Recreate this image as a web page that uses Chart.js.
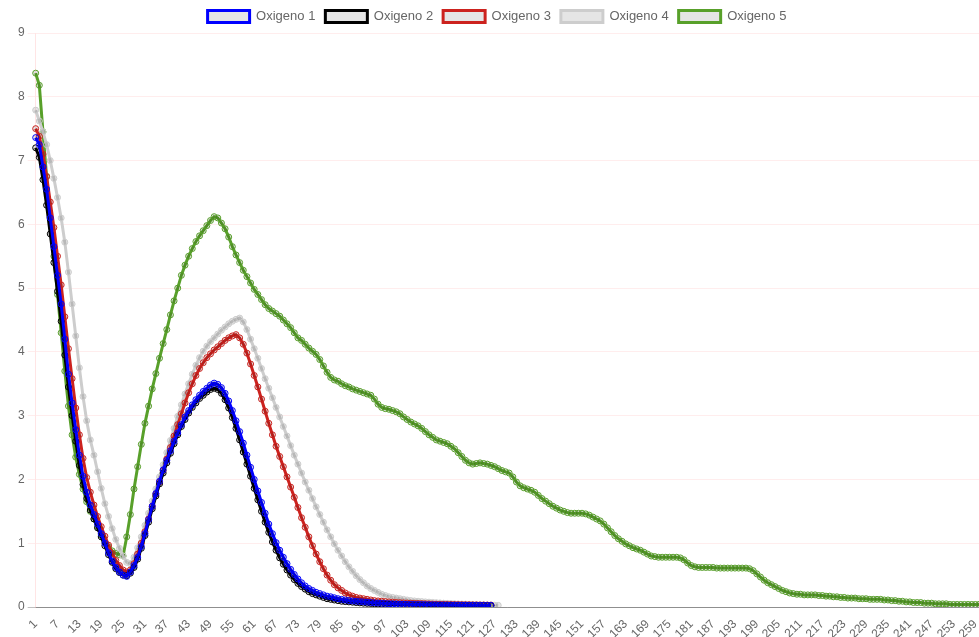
<!DOCTYPE html>
<html>
<head>
<meta charset="utf-8">
<script src="https://cdn.jsdelivr.net/npm/chart.js@4.4.1/dist/chart.umd.min.js"></script>
<style>
  html, body { margin: 0; padding: 0; background: #ffffff; }
  canvas { display: block; }
</style>
</head>
<body>
<canvas id="chart" width="979" height="637"></canvas>
<script>
// Sample numbers along the x axis (1 .. 260)
const categories = Array.from({ length: 260 }, (_, i) => String(i + 1));

const oxigeno1 = [
  7.36, 7.25, 6.9, 6.55, 6.1, 5.65, 5.2, 4.75, 4.2, 3.65,
  3.2, 2.78, 2.38, 2.05, 1.8, 1.6, 1.45, 1.3, 1.15, 1.0,
  0.85, 0.72, 0.62, 0.55, 0.5, 0.48, 0.55, 0.65, 0.78, 0.95,
  1.15, 1.37, 1.58, 1.78, 1.97, 2.15, 2.3, 2.45, 2.6, 2.73,
  2.86, 2.98, 3.08, 3.17, 3.25, 3.32, 3.38, 3.43, 3.48, 3.51,
  3.49, 3.44, 3.35, 3.23, 3.08, 2.92, 2.75, 2.57, 2.38, 2.19,
  2.0, 1.82, 1.64, 1.47, 1.3, 1.15, 1.01, 0.89, 0.78, 0.68,
  0.59, 0.51, 0.44, 0.38, 0.33, 0.29, 0.26, 0.23, 0.21, 0.19,
  0.17, 0.16, 0.145, 0.13, 0.12, 0.11, 0.1, 0.095, 0.09, 0.085,
  0.08, 0.075, 0.07, 0.066, 0.062, 0.058, 0.055, 0.052, 0.05, 0.048,
  0.046, 0.044, 0.042, 0.041, 0.04, 0.039, 0.038, 0.037, 0.036, 0.035,
  0.034, 0.033, 0.032, 0.031, 0.03, 0.03, 0.029, 0.028, 0.028, 0.027,
  0.027, 0.026, 0.026, 0.025, 0.025, 0.025
];

const oxigeno2 = [
  7.2, 7.05, 6.7, 6.3, 5.85, 5.4, 4.95, 4.48, 3.95, 3.45,
  3.0, 2.6, 2.22, 1.92, 1.7, 1.52, 1.38, 1.24, 1.1, 0.96,
  0.82, 0.7, 0.6, 0.54, 0.5, 0.49, 0.53, 0.62, 0.75, 0.92,
  1.12, 1.33, 1.54, 1.74, 1.93, 2.1, 2.26, 2.41, 2.56, 2.7,
  2.83, 2.94, 3.04, 3.13, 3.2, 3.27, 3.32, 3.37, 3.41, 3.43,
  3.41, 3.35, 3.25, 3.12, 2.97, 2.8, 2.62, 2.43, 2.24, 2.05,
  1.86, 1.68, 1.5, 1.33, 1.17, 1.02, 0.89, 0.77, 0.67, 0.58,
  0.5, 0.43, 0.37, 0.32, 0.28, 0.24, 0.21, 0.19, 0.17, 0.15,
  0.13, 0.12, 0.11, 0.1, 0.09, 0.085, 0.08, 0.075, 0.07, 0.065,
  0.06, 0.057, 0.054, 0.051, 0.048, 0.046, 0.044, 0.042, 0.04, 0.038,
  0.037, 0.036, 0.035, 0.034, 0.033, 0.032, 0.031, 0.03, 0.029, 0.028,
  0.028, 0.027, 0.027, 0.026, 0.026, 0.025, 0.025, 0.024, 0.024, 0.023,
  0.023, 0.022, 0.022, 0.022, 0.021, 0.021
];

const oxigeno3 = [
  7.5, 7.38, 7.1, 6.75, 6.35, 5.95, 5.5, 5.05, 4.55, 4.05,
  3.58, 3.12, 2.7, 2.33, 2.03, 1.8, 1.6, 1.42, 1.26, 1.11,
  0.97, 0.84, 0.73, 0.65, 0.58, 0.55, 0.58, 0.68, 0.83, 1.0,
  1.18, 1.38, 1.58, 1.77, 1.96, 2.14, 2.32, 2.5, 2.68, 2.86,
  3.03, 3.2, 3.36, 3.5, 3.63, 3.74, 3.83, 3.91, 3.97, 4.03,
  4.08, 4.13, 4.18, 4.22, 4.25, 4.27, 4.22, 4.12, 3.98, 3.81,
  3.63, 3.45, 3.26, 3.07, 2.88, 2.7, 2.52, 2.36, 2.2, 2.04,
  1.88, 1.72, 1.56, 1.4, 1.25, 1.1, 0.96, 0.83, 0.71, 0.6,
  0.5, 0.42, 0.35, 0.3, 0.26, 0.22, 0.19, 0.17, 0.15, 0.14,
  0.13, 0.12, 0.11, 0.1, 0.095, 0.09, 0.085, 0.08, 0.076, 0.072,
  0.068, 0.065, 0.062, 0.06, 0.057, 0.055, 0.053, 0.051, 0.049, 0.047,
  0.045, 0.044, 0.042, 0.041, 0.04, 0.039, 0.038, 0.037, 0.036, 0.035,
  0.034, 0.033, 0.032, 0.031, 0.03, 0.03
];

const oxigeno4 = [
  7.79, 7.62, 7.45, 7.25, 7.0, 6.72, 6.42, 6.1, 5.72, 5.25,
  4.75, 4.25, 3.75, 3.3, 2.92, 2.62, 2.38, 2.12, 1.86, 1.62,
  1.42, 1.23, 1.06, 0.92, 0.8, 0.7, 0.68, 0.78, 0.93, 1.1,
  1.28, 1.47, 1.66, 1.85, 2.04, 2.23, 2.42, 2.61, 2.8, 2.99,
  3.17, 3.34, 3.5, 3.65, 3.79, 3.91, 4.01, 4.09, 4.16, 4.22,
  4.28, 4.34, 4.39, 4.44, 4.48, 4.51, 4.53, 4.47, 4.35, 4.2,
  4.05, 3.9, 3.74, 3.58, 3.43, 3.28, 3.13, 2.98, 2.83, 2.68,
  2.53, 2.38, 2.24, 2.1, 1.96, 1.83, 1.7, 1.57, 1.45, 1.33,
  1.21, 1.1, 0.99, 0.89, 0.8, 0.71, 0.63, 0.56, 0.49, 0.43,
  0.38, 0.33, 0.29, 0.26, 0.23, 0.2, 0.18, 0.16, 0.15, 0.14,
  0.13, 0.12, 0.11, 0.1, 0.095, 0.09, 0.085, 0.08, 0.076, 0.072,
  0.068, 0.064, 0.06, 0.057, 0.054, 0.051, 0.048, 0.046, 0.044, 0.042,
  0.04, 0.038, 0.036, 0.034, 0.032, 0.03, 0.028, 0.026
];

const oxigeno5 = [
  8.37, 8.18, 7.45, 6.75, 6.1, 5.5, 4.9, 4.3, 3.7, 3.15,
  2.7, 2.35, 2.08, 1.85, 1.65, 1.5, 1.38, 1.26, 1.13, 1.02,
  0.94, 0.88, 0.84, 0.82, 0.8, 1.1, 1.45, 1.85, 2.2, 2.55,
  2.88, 3.15, 3.42, 3.66, 3.9, 4.13, 4.35, 4.58, 4.8, 5.0,
  5.2, 5.36, 5.5, 5.62, 5.73, 5.82, 5.9, 5.98, 6.06, 6.12,
  6.1, 6.02, 5.93, 5.8, 5.65, 5.52, 5.4, 5.28, 5.18, 5.08,
  4.98, 4.9, 4.82, 4.74, 4.68, 4.64, 4.6, 4.56, 4.5, 4.44,
  4.38, 4.3, 4.22, 4.18, 4.12, 4.06, 4.01, 3.96, 3.88, 3.78,
  3.68, 3.6, 3.56, 3.54, 3.5, 3.47, 3.45, 3.42, 3.4, 3.38,
  3.36, 3.34, 3.32, 3.26, 3.18, 3.13, 3.11, 3.1, 3.08, 3.06,
  3.03, 2.98, 2.94, 2.9, 2.87, 2.84, 2.8, 2.75, 2.7, 2.66,
  2.62, 2.6, 2.58, 2.56, 2.52, 2.48, 2.42, 2.36, 2.3, 2.26,
  2.24, 2.25, 2.26, 2.25, 2.24, 2.22, 2.2, 2.17, 2.14, 2.12,
  2.1, 2.04, 1.96, 1.9, 1.87, 1.85, 1.83, 1.8, 1.75, 1.7,
  1.66, 1.62, 1.58, 1.55, 1.52, 1.5, 1.48, 1.47, 1.47, 1.47,
  1.47, 1.46, 1.44, 1.41, 1.38, 1.35, 1.3, 1.24, 1.18, 1.12,
  1.07, 1.03, 0.99, 0.96, 0.93, 0.91, 0.89, 0.86, 0.83, 0.8,
  0.79, 0.78, 0.78, 0.78, 0.78, 0.78, 0.78, 0.77, 0.74, 0.69,
  0.65, 0.63, 0.62, 0.62, 0.62, 0.62, 0.62, 0.61, 0.61, 0.61,
  0.61, 0.61, 0.61, 0.61, 0.61, 0.61, 0.6, 0.57, 0.52, 0.47,
  0.42, 0.38, 0.35, 0.32, 0.29, 0.26, 0.24, 0.22, 0.21, 0.2,
  0.2, 0.19, 0.19, 0.19, 0.19, 0.18, 0.18, 0.17, 0.17, 0.16,
  0.16, 0.15, 0.15, 0.14, 0.14, 0.14, 0.13, 0.13, 0.13, 0.12,
  0.12, 0.12, 0.12, 0.11, 0.11, 0.1, 0.1, 0.09, 0.09, 0.08,
  0.08, 0.07, 0.07, 0.07, 0.06, 0.06, 0.06, 0.05, 0.05, 0.05,
  0.05, 0.04, 0.04, 0.04, 0.04, 0.04, 0.04, 0.04, 0.04, 0.04
];

const seriesNames = ['Oxigeno 1', 'Oxigeno 2', 'Oxigeno 3', 'Oxigeno 4', 'Oxigeno 5'];
const seriesValues = [oxigeno1, oxigeno2, oxigeno3, oxigeno4, oxigeno5];
const seriesColors = ['#0000ff', '#000000', 'rgb(204,34,30)', 'rgb(205,205,205)', 'rgb(88,160,42)'];

const yTicks = [0, 1, 2, 3, 4, 5, 6, 7, 8, 9];

Chart.defaults.font.family = '"Liberation Sans", Arial, Helvetica, sans-serif';
Chart.defaults.font.size = 12;
Chart.defaults.color = '#666666';

const datasets = seriesNames.map((name, k) => ({
  label: name,
  data: seriesValues[k],
  borderColor: seriesColors[k],
  backgroundColor: 'rgba(0,0,0,0.1)',
  pointBorderColor: seriesColors[k],
  pointBackgroundColor: 'rgba(0,0,0,0.1)',
  borderWidth: 3,
  pointRadius: 3,
  pointBorderWidth: 1,
  fill: false,
  tension: 0
}));

new Chart(document.getElementById('chart'), {
  type: 'line',
  data: { labels: categories, datasets },
  options: {
    responsive: false,
    animation: false,
    layout: { autoPadding: false, padding: { left: 15, right: 0, top: 0, bottom: 0 } },
    plugins: {
      legend: {
        position: 'top',
        labels: { boxWidth: 42, boxHeight: 12, padding: 10, color: '#666666', font: { size: 13 } }
      },
      tooltip: { enabled: false }
    },
    scales: {
      x: {
        grid: { display: false },
        border: { display: true, color: 'rgba(0,0,0,0.25)', width: 1 },
        afterFit: (scale) => {
          scale.height = 30;
          scale.paddingRight = 0;
        },
        ticks: {
          autoSkip: false,
          minRotation: 45,
          maxRotation: 45,
          padding: 2,
          color: '#666666',
          callback: (value, index) => (index % 6 === 0 ? categories[index] : null)
        }
      },
      y: {
        min: yTicks[0],
        max: yTicks[yTicks.length - 1],
        afterBuildTicks: (scale) => { scale.ticks = yTicks.map(v => ({ value: v })); },
        ticks: { color: '#666666' },
        grid: {
          color: (c) => (c.tick && c.tick.value === 0 ? 'rgba(0,0,0,0.25)' : 'rgba(255,0,0,0.07)')
        },
        border: { color: 'rgba(255,0,0,0.1)' }
      }
    }
  }
});
</script>
</body>
</html>
